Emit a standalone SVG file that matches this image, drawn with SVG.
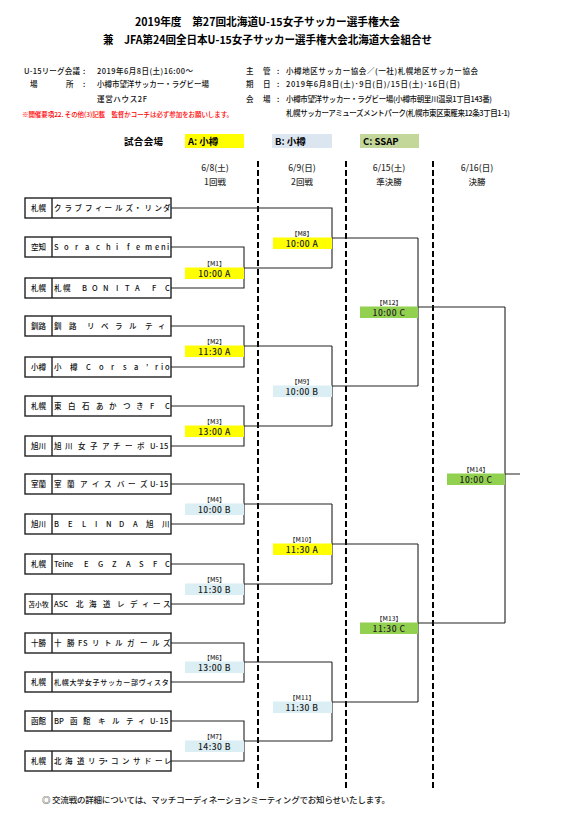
<svg xmlns="http://www.w3.org/2000/svg" width="583" height="832" viewBox="0 0 583 832">
<style>
text{font-family:"Noto Sans CJK JP","Noto Sans",sans-serif;}
.title{font-size:11px;font-weight:bold;fill:#000}
.info{font-size:7.5px;fill:#111;font-weight:500}
.note{font-size:6.5px;fill:#ff0000;font-weight:500}
.leg{font-size:9.5px;font-weight:bold;fill:#000}
.hd{font-size:8.5px;fill:#333;text-anchor:middle;font-weight:500}
.team{font-size:7.5px;fill:#111;font-weight:500}
.pref{font-size:7.5px;fill:#111;text-anchor:middle;font-weight:500}
.box{fill:#fff;stroke:#222;stroke-width:1.4}
.ln{fill:none;stroke:#222;stroke-width:1.1}
.dash{fill:none;stroke:#000;stroke-width:2;stroke-dasharray:6 3}
.ml{font-size:6.5px;fill:#333;text-anchor:middle;font-weight:500}
.mt{font-size:8.5px;fill:#222;text-anchor:middle;letter-spacing:0.5px;font-weight:500}
.ca{fill:#ffff00}
.cb{fill:#daeef3}
.cc{fill:#92d050}
.foot{font-size:8.5px;fill:#222;font-weight:500}
</style>

<g id="header">
<text class="title" x="135" y="26" textLength="265" lengthAdjust="spacingAndGlyphs">2019年度　第27回北海道U-15女子サッカー選手権大会</text>
<text class="title" x="103" y="44" textLength="329" lengthAdjust="spacingAndGlyphs">兼　JFA第24回全日本U-15女子サッカー選手権大会北海道大会組合せ</text>
<text class="info" x="24" y="74" textLength="56">U-15リーグ会議</text>
<text class="info" x="83" y="74">:</text>
<text class="info" x="97" y="74" textLength="96">2019年6月8日(土)16:00～</text>
<text class="info" x="30 66" y="87">場所</text>
<text class="info" x="83" y="87">:</text>
<text class="info" x="97" y="87" textLength="112">小樽市望洋サッカー・ラグビー場</text>
<text class="info" x="97" y="102" textLength="50">運営ハウス2F</text>
<text class="note" x="22" y="116.5" textLength="211">※開催要項22. その他(3)記載　監督かコーチは必ず参加をお願いします。</text>
<text class="info" x="246 263" y="74">主管</text>
<text class="info" x="277" y="74">:</text>
<text class="info" x="286" y="74" textLength="192">小樽地区サッカー協会／(一社)札幌地区サッカー協会</text>
<text class="info" x="246 263" y="87">期日</text>
<text class="info" x="277" y="87">:</text>
<text class="info" x="286" y="87" textLength="174">2019年6月8日(土)･9日(日)/15日(土)･16日(日)</text>
<text class="info" x="246 263" y="102">会場</text>
<text class="info" x="277" y="102">:</text>
<text class="info" x="286" y="102" textLength="206">小樽市望洋サッカー・ラグビー場(小樽市朝里川温泉1丁目143番)</text>
<text class="info" x="286" y="116" textLength="224">札幌サッカーアミューズメントパーク(札幌市東区東雁来12条3丁目1-1)</text>
</g>

<g id="legend">
<text class="leg" x="124" y="145" textLength="39">試合会場</text>
<rect x="185" y="134" width="59" height="14" fill="#ffff00"/>
<text class="leg" x="188" y="145">A: 小樽</text>
<rect x="272" y="134" width="60" height="14" fill="#dce6f1"/>
<text class="leg" x="275" y="145">B: 小樽</text>
<rect x="360" y="134" width="59" height="14" fill="#c4d79b"/>
<text class="leg" x="363" y="145">C: SSAP</text>
</g>

<g id="column-headers">
<text class="hd" x="215" y="171">6/8(土)</text>
<text class="hd" x="215" y="185">1回戦</text>
<text class="hd" x="302" y="171">6/9(日)</text>
<text class="hd" x="302" y="185">2回戦</text>
<text class="hd" x="389" y="171">6/15(土)</text>
<text class="hd" x="389" y="185">準決勝</text>
<text class="hd" x="477" y="171">6/16(日)</text>
<text class="hd" x="477" y="185">決勝</text>
</g>

<g id="day-dividers">
<line class="dash" x1="258" y1="161" x2="258" y2="790"/>
<line class="dash" x1="346" y1="161" x2="346" y2="790"/>
<line class="dash" x1="433" y1="161" x2="433" y2="790"/>
</g>

<g id="connectors">
<path class="ln" d="M171 208H332V268M244 268H332"/>
<path class="ln" d="M171 247H244V288H171"/>
<path class="ln" d="M171 326H244V367H171M244 346H332"/>
<path class="ln" d="M171 406H244V446H171M244 426H332"/>
<path class="ln" d="M332 346V426M332 386H418"/>
<path class="ln" d="M332 238H418"/>
<path class="ln" d="M418 238V386M418 307H505"/>
<path class="ln" d="M171 484H244V524H171M244 504H332"/>
<path class="ln" d="M171 564H244V604H171M244 584H332"/>
<path class="ln" d="M332 504V584M332 544H418"/>
<path class="ln" d="M171 643H244V682H171M244 662H332"/>
<path class="ln" d="M171 721H244V761H171M244 741H332"/>
<path class="ln" d="M332 662V741M332 702H418"/>
<path class="ln" d="M418 544V702M418 623H505"/>
<path class="ln" d="M505 307V623M505 474H520"/>
</g>

<g id="team-1"><rect class="box" x="25" y="198" width="146" height="20"/><line class="box" x1="52" y1="198" x2="52" y2="218"/>
<text class="pref" x="38.5" y="211">札幌</text>
<text class="team" x="54 64.5 74.5 85 95 104.5 115 125.5 134 144.5 154.5 163" y="211">クラブフィールズ・リンダ</text></g>

<g id="team-2"><rect class="box" x="25" y="237" width="146" height="20"/><line class="box" x1="52" y1="237" x2="52" y2="257"/>
<text class="pref" x="38.5" y="250">空知</text>
<text class="team" x="54 64 75 85 96 106 116 122 127 136 145 155 161 167" y="250">Sorachi femeni</text></g>

<g id="team-3"><rect class="box" x="25" y="278" width="146" height="20"/><line class="box" x1="52" y1="278" x2="52" y2="298"/>
<text class="pref" x="38.5" y="291">札幌</text>
<text class="team" x="54 63 82 92 103 116 125 135 145 152 165" y="291">札幌BONITA FC</text></g>

<g id="team-4"><rect class="box" x="25" y="316" width="146" height="20"/><line class="box" x1="52" y1="316" x2="52" y2="336"/>
<text class="pref" x="38.5" y="329">釧路</text>
<text class="team" x="54 69 87 101 115 129 145 158" y="329">釧路リベラルティ</text></g>

<g id="team-5"><rect class="box" x="25" y="357" width="146" height="20"/><line class="box" x1="52" y1="357" x2="52" y2="377"/>
<text class="pref" x="38.5" y="370">小樽</text>
<text class="team" x="54 70 86 99 111 123 134 146 155 161 165" y="370">小樽Corsa’rio</text></g>

<g id="team-6"><rect class="box" x="25" y="396" width="146" height="20"/><line class="box" x1="52" y1="396" x2="52" y2="416"/>
<text class="pref" x="38.5" y="409">札幌</text>
<text class="team" x="54 68 82 96 109 123 136 150 165" y="409">東白石あかつきFC</text></g>

<g id="team-7"><rect class="box" x="25" y="436" width="146" height="20"/><line class="box" x1="52" y1="436" x2="52" y2="456"/>
<text class="pref" x="38.5" y="449">旭川</text>
<text class="team" x="54 65 78 90 102 113 125 137 150 155.5 159.5 164" y="449">旭川女子アチーボU-15</text></g>

<g id="team-8"><rect class="box" x="25" y="474" width="146" height="20"/><line class="box" x1="52" y1="474" x2="52" y2="494"/>
<text class="pref" x="38.5" y="487">室蘭</text>
<text class="team" x="54 67 80 92 104 117 128 140 150 155.5 159.5 164" y="487">室蘭アイスバーズU-15</text></g>

<g id="team-9"><rect class="box" x="25" y="514" width="146" height="20"/><line class="box" x1="52" y1="514" x2="52" y2="534"/>
<text class="pref" x="38.5" y="527">旭川</text>
<text class="team" x="54 68 82 95 106 119 133 146 162" y="527">BELINDA旭川</text></g>

<g id="team-10"><rect class="box" x="25" y="554" width="146" height="20"/><line class="box" x1="52" y1="554" x2="52" y2="574"/>
<text class="pref" x="38.5" y="567">札幌</text>
<text class="team" x="54" y="567">Teine <tspan x="84 98 112 126 139 153 165">EGZASFC</tspan></text></g>

<g id="team-11"><rect class="box" x="25" y="594" width="146" height="20"/><line class="box" x1="52" y1="594" x2="52" y2="614"/>
<text class="pref" x="38.5" y="607" style="font-size:6.8px">苫小牧</text>
<text class="team" x="54" y="607">ASC<tspan x="76 89 103 117 130 142 153 163">北海道レディース</tspan></text></g>

<g id="team-12"><rect class="box" x="25" y="633" width="146" height="20"/><line class="box" x1="52" y1="633" x2="52" y2="653"/>
<text class="pref" x="38.5" y="646">十勝</text>
<text class="team" x="54 67 78 83 92 104 115 127 140 152 163" y="646">十勝FSリトルガールズ</text></g>

<g id="team-13"><rect class="box" x="25" y="672" width="146" height="20"/><line class="box" x1="52" y1="672" x2="52" y2="692"/>
<text class="pref" x="38.5" y="685">札幌</text>
<text class="team" style="font-size:7px" x="54 61.7 69.4 77.1 84.8 92.5 100.2 107.9 115.6 123.3 131 138.7 146.4 154.1 161.8" y="685">札幌大学女子サッカー部ヴィスタ</text></g>

<g id="team-14"><rect class="box" x="25" y="711" width="146" height="20"/><line class="box" x1="52" y1="711" x2="52" y2="731"/>
<text class="pref" x="38.5" y="724">函館</text>
<text class="team" x="54 59 70 83 98 112 126 138 150 155.5 159.5 164" y="724">BP函館キルティU-15</text></g>

<g id="team-15"><rect class="box" x="25" y="751" width="146" height="20"/><line class="box" x1="52" y1="751" x2="52" y2="771"/>
<text class="pref" x="38.5" y="764">札幌</text>
<text class="team" x="54 65 77 88 98 102.5 111 122 133 144 155 164" y="764">北海道リラ・コンサドーレ</text></g>

<g id="m1"><text class="ml" x="214.5" y="266">【M1】</text><rect class="ca" x="185" y="267.5" width="59" height="11.5"/><text class="mt" x="214.5" y="277">10:00 A</text></g>
<g id="m2"><text class="ml" x="214.5" y="344">【M2】</text><rect class="ca" x="185" y="345.5" width="59" height="11.5"/><text class="mt" x="214.5" y="355">11:30 A</text></g>
<g id="m3"><text class="ml" x="214.5" y="424">【M3】</text><rect class="ca" x="185" y="425.5" width="59" height="11.5"/><text class="mt" x="214.5" y="435">13:00 A</text></g>
<g id="m4"><text class="ml" x="214.5" y="502">【M4】</text><rect class="cb" x="185" y="503.5" width="59" height="11.5"/><text class="mt" x="214.5" y="513">10:00 B</text></g>
<g id="m5"><text class="ml" x="214.5" y="582">【M5】</text><rect class="cb" x="185" y="583.5" width="59" height="11.5"/><text class="mt" x="214.5" y="593">11:30 B</text></g>
<g id="m6"><text class="ml" x="214.5" y="660">【M6】</text><rect class="cb" x="185" y="661.5" width="59" height="11.5"/><text class="mt" x="214.5" y="671">13:00 B</text></g>
<g id="m7"><text class="ml" x="214.5" y="739">【M7】</text><rect class="cb" x="185" y="740.5" width="59" height="11.5"/><text class="mt" x="214.5" y="750">14:30 B</text></g>
<g id="m8"><text class="ml" x="302" y="236">【M8】</text><rect class="ca" x="273" y="237.5" width="59" height="11.5"/><text class="mt" x="302" y="247">10:00 A</text></g>
<g id="m9"><text class="ml" x="302" y="384">【M9】</text><rect class="cb" x="273" y="385.5" width="59" height="11.5"/><text class="mt" x="302" y="395">10:00 B</text></g>
<g id="m10"><text class="ml" x="302" y="542">【M10】</text><rect class="ca" x="273" y="543.5" width="59" height="11.5"/><text class="mt" x="302" y="553">11:30 A</text></g>
<g id="m11"><text class="ml" x="302" y="700">【M11】</text><rect class="cb" x="273" y="701.5" width="59" height="11.5"/><text class="mt" x="302" y="711">11:30 B</text></g>
<g id="m12"><text class="ml" x="389" y="305">【M12】</text><rect class="cc" x="360" y="306.5" width="58" height="11.5"/><text class="mt" x="389" y="316">10:00 C</text></g>
<g id="m13"><text class="ml" x="389" y="621">【M13】</text><rect class="cc" x="360" y="622.5" width="58" height="11.5"/><text class="mt" x="389" y="632">11:30 C</text></g>
<g id="m14"><text class="ml" x="476" y="472">【M14】</text><rect class="cc" x="447" y="473.5" width="58" height="11.5"/><text class="mt" x="476" y="483">10:00 C</text></g>

<g id="footer">
<text class="foot" x="42" y="803" textLength="348">◎ 交流戦の詳細については、マッチコーディネーションミーティングでお知らせいたします。</text>
</g>
</svg>
